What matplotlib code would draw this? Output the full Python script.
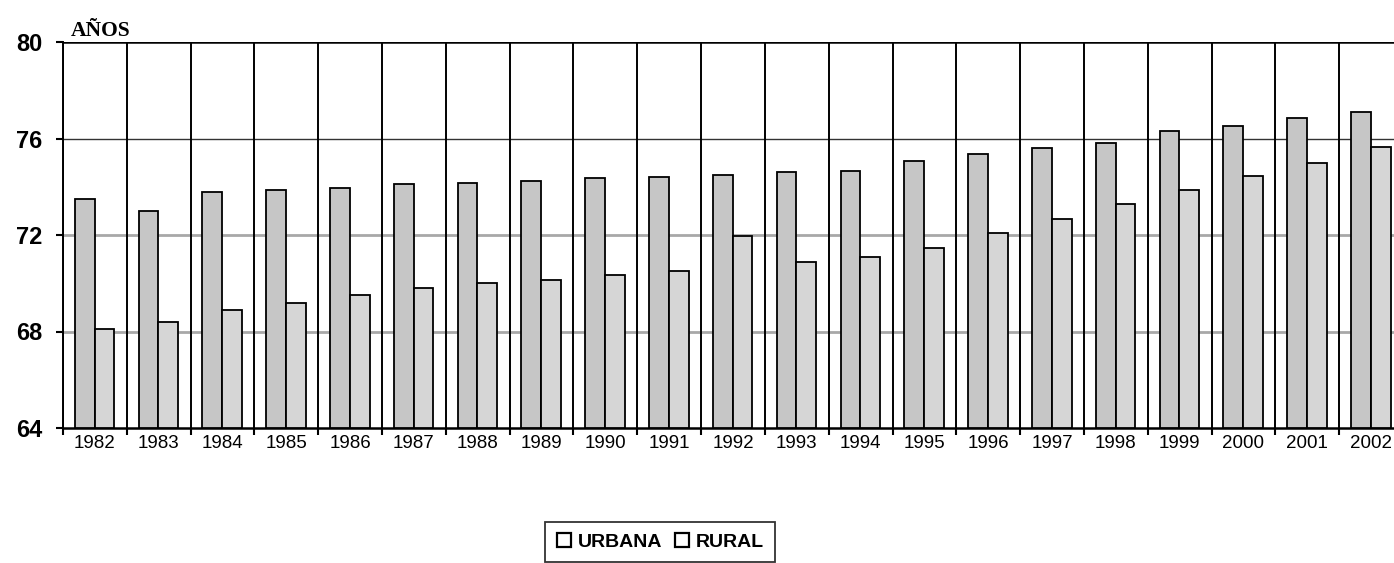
import matplotlib
matplotlib.use("Agg")
import matplotlib.pyplot as plt
import numpy as np
from matplotlib.lines import Line2D

years = ["1982", "1983", "1984", "1985", "1986", "1987", "1988", "1989", "1990", "1991",
         "1992", "1993", "1994", "1995", "1996", "1997", "1998", "1999", "2000", "2001", "2002"]
urbana = [73.5, 73.0, 73.8, 73.85, 73.95, 74.1, 74.15, 74.25, 74.35, 74.4,
          74.5, 74.6, 74.65, 75.05, 75.35, 75.6, 75.8, 76.3, 76.5, 76.85, 77.1]
rural = [68.1, 68.4, 68.9, 69.2, 69.5, 69.8, 70.0, 70.15, 70.35, 70.5,
         71.95, 70.9, 71.1, 71.45, 72.1, 72.65, 73.3, 73.85, 74.45, 75.0, 75.65]
series_names = ["URBANA", "RURAL"]
yticks = [64, 68, 72, 76, 80]

fig = plt.figure(figsize=(13.94, 5.63), dpi=100)
ax = fig.add_axes([63 / 1394, 1 - 428 / 563, 1340 / 1394, 386 / 563])

x = np.arange(len(years))
w = 0.31
ax.bar(x - 0.16, np.array(urbana) - 64, w, bottom=64, color="#c6c6c6",
       edgecolor="black", linewidth=1.3, zorder=3)
ax.bar(x + 0.15, np.array(rural) - 64, w, bottom=64, color="#d6d6d6",
       edgecolor="black", linewidth=1.3, zorder=3)

# horizontal gridlines
ax.axhline(76, color="#333333", lw=1.0, zorder=1)
for yv in (68, 72):
    ax.axhline(yv, color="#a8a8a8", lw=2.0, zorder=1)
ax.axhline(80, color="black", lw=1.8, zorder=4)

# vertical separators
for b in np.arange(len(years) + 1) - 0.5:
    ax.axvline(b, color="black", lw=1.4, zorder=2)

ax.set_xlim(-0.5, len(years) - 0.5)
ax.set_ylim(64, 80)
ax.set_yticks(yticks)
ax.set_yticklabels([str(v) for v in yticks], fontsize=17, fontweight="bold",
                   family="Liberation Sans")
ax.tick_params(axis="y", direction="out", length=5, width=1.5, pad=10)
ax.set_xticks(x)
ax.set_xticklabels(years, fontsize=13.5, family="Liberation Sans")
ax.tick_params(axis="x", which="major", length=0, pad=5)
ax.set_xticks(np.arange(len(years) + 1) - 0.5, minor=True)
ax.tick_params(axis="x", which="minor", direction="out", length=5, width=1.5)

for s in ("top", "right"):
    ax.spines[s].set_visible(False)
ax.spines["bottom"].set_linewidth(1.8)
ax.spines["left"].set_linewidth(1.4)

fig.text(71 / 1394, 1 - 36 / 563, "AÑOS", fontsize=15.5, fontweight="bold",
         family="Liberation Serif", ha="left", va="baseline")

handles = [Line2D([], [], marker="s", linestyle="none", markersize=10,
                  markerfacecolor="white", markeredgecolor="black", markeredgewidth=1.6)
           for _ in series_names]
leg = fig.legend(handles, series_names, loc="center", bbox_to_anchor=(660 / 1394, 1 - 542 / 563),
                 ncol=2, frameon=True, fancybox=False, edgecolor="black",
                 prop={"family": "Liberation Sans", "weight": "bold", "size": 14},
                 handlelength=0.8, handletextpad=0.3, columnspacing=0.6, borderpad=0.6)
leg.get_frame().set_linewidth(1.3)

fig.savefig("out.png", dpi=100)
